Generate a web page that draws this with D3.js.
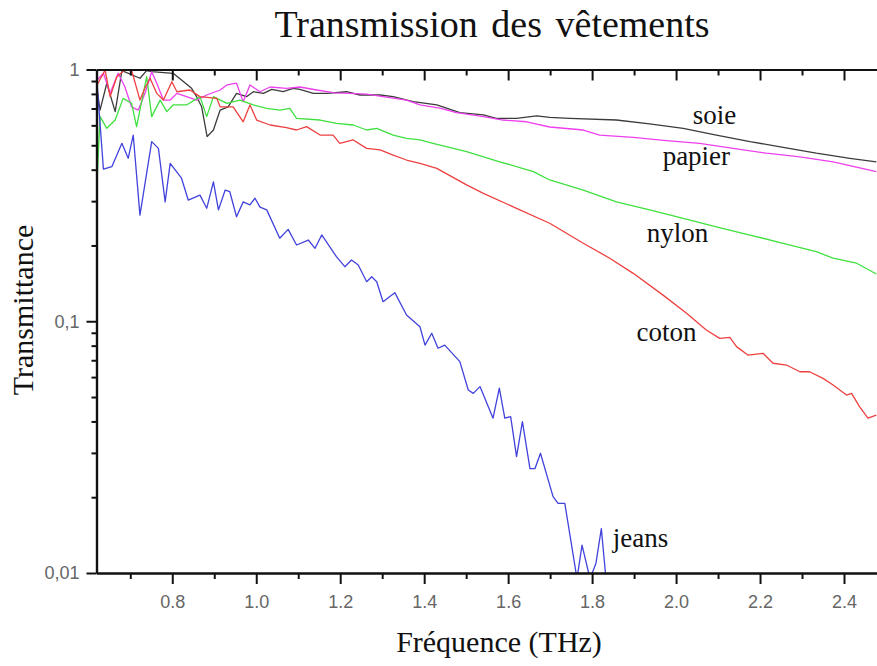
<!DOCTYPE html>
<html>
<head>
<meta charset="utf-8">
<script src="https://cdn.jsdelivr.net/npm/d3@7"></script>
<style>
  body { margin: 0; background: #fff; }
  svg { display: block; }
</style>
</head>
<body>
<script>
// transmittance (freq in THz)
var soieFreq = [0.621,0.628,0.644,0.664,0.680,0.723,0.739,0.751,0.802,0.822,0.846,0.858,0.870,0.883,0.898,0.914,0.933,0.953,0.977,0.993,1.017,1.037,1.064,1.088,1.104,1.136,1.168,1.215,1.247,1.295,1.326,1.374,1.430,1.485,1.541,1.572,1.620,1.668,1.699,1.747,1.858,1.937,2.017,2.096,2.176,2.255,2.334,2.414,2.477];
var soieT    = [0.829,0.690,0.882,0.680,0.990,0.923,0.990,0.980,0.966,0.908,0.842,0.780,0.711,0.541,0.575,0.690,0.711,0.804,0.780,0.816,0.804,0.834,0.816,0.842,0.834,0.804,0.804,0.816,0.792,0.792,0.780,0.745,0.723,0.674,0.660,0.640,0.640,0.654,0.645,0.640,0.630,0.608,0.584,0.549,0.517,0.491,0.465,0.444,0.430];

var papierFreq = [0.621,0.636,0.652,0.671,0.687,0.703,0.719,0.735,0.751,0.763,0.779,0.795,0.811,0.834,0.858,0.882,0.914,0.930,0.953,0.969,0.985,1.009,1.033,1.072,1.104,1.144,1.187,1.223,1.263,1.302,1.358,1.390,1.437,1.477,1.541,1.588,1.644,1.699,1.779,1.818,1.898,1.977,2.056,2.136,2.215,2.295,2.374,2.477];
var papierT    = [0.908,0.966,0.804,0.966,0.854,0.711,0.690,0.804,0.980,0.882,0.756,0.756,0.804,0.780,0.756,0.792,0.829,0.868,0.882,0.745,0.868,0.816,0.852,0.842,0.852,0.829,0.807,0.804,0.799,0.780,0.756,0.723,0.703,0.674,0.650,0.630,0.620,0.591,0.575,0.549,0.538,0.522,0.509,0.486,0.465,0.450,0.430,0.393];

var nylonFreq = [0.620,0.628,0.644,0.664,0.683,0.703,0.715,0.739,0.751,0.771,0.787,0.802,0.834,0.866,0.882,0.898,0.930,0.961,0.993,1.025,1.056,1.080,1.096,1.152,1.191,1.231,1.263,1.287,1.326,1.358,1.390,1.421,1.501,1.580,1.660,1.699,1.779,1.858,1.937,2.017,2.096,2.176,2.255,2.334,2.374,2.430,2.477];
var nylonT    = [0.338,0.650,0.584,0.630,0.768,0.734,0.593,0.936,0.650,0.756,0.680,0.723,0.723,0.780,0.650,0.780,0.734,0.756,0.723,0.701,0.690,0.701,0.640,0.630,0.611,0.602,0.575,0.584,0.549,0.533,0.525,0.509,0.472,0.430,0.393,0.364,0.332,0.298,0.277,0.256,0.237,0.220,0.204,0.189,0.178,0.170,0.154];

var cotonFreq = [0.621,0.640,0.652,0.668,0.687,0.703,0.723,0.735,0.747,0.763,0.779,0.799,0.811,0.842,0.866,0.906,0.914,0.945,0.969,0.985,1.001,1.033,1.072,1.096,1.120,1.152,1.183,1.199,1.231,1.263,1.295,1.326,1.358,1.390,1.430,1.501,1.541,1.620,1.699,1.779,1.842,1.898,1.969,2.025,2.072,2.104,2.128,2.144,2.171,2.207,2.231,2.263,2.295,2.318,2.350,2.374,2.406,2.418,2.437,2.457,2.477];
var cotonT    = [0.868,0.995,0.780,0.936,0.995,0.995,0.756,0.844,0.923,0.804,0.756,0.894,0.816,0.829,0.780,0.768,0.711,0.711,0.620,0.723,0.630,0.602,0.588,0.575,0.593,0.549,0.549,0.509,0.525,0.486,0.479,0.457,0.437,0.424,0.405,0.348,0.322,0.281,0.245,0.204,0.178,0.155,0.127,0.1075,0.0923,0.0855,0.0863,0.0793,0.0734,0.0746,0.0681,0.0670,0.0630,0.0630,0.0593,0.0558,0.0509,0.0517,0.0458,0.0412,0.0424];

var jeansFreq = [0.620,0.636,0.656,0.680,0.695,0.707,0.723,0.751,0.767,0.783,0.795,0.822,0.838,0.866,0.882,0.898,0.910,0.926,0.937,0.953,0.969,0.985,0.997,1.009,1.025,1.056,1.076,1.096,1.124,1.140,1.156,1.191,1.211,1.227,1.243,1.263,1.275,1.287,1.302,1.330,1.358,1.390,1.402,1.418,1.433,1.449,1.485,1.505,1.517,1.533,1.564,1.579,1.592,1.606,1.620,1.634,1.652,1.664,1.677,1.707,1.719,1.735,1.764,1.776,1.795,1.809,1.822,1.833];
var jeansT    = [0.920,0.402,0.411,0.509,0.444,0.549,0.264,0.517,0.486,0.298,0.424,0.370,0.303,0.317,0.281,0.358,0.277,0.332,0.327,0.260,0.298,0.290,0.308,0.284,0.277,0.2136,0.2318,0.2009,0.2102,0.1949,0.2202,0.1805,0.1647,0.1751,0.1673,0.1436,0.1503,0.1436,0.1196,0.1299,0.1059,0.0951,0.0804,0.0896,0.0781,0.0804,0.0691,0.0533,0.0517,0.0550,0.0412,0.0542,0.0412,0.0418,0.0290,0.0399,0.0260,0.0260,0.0299,0.0201,0.0189,0.0189,0.0095,0.0129,0.0095,0.0109,0.0150,0.0095];

var seriesNames = ["soie", "papier", "nylon", "coton", "jeans"];
// where each name sits, in data units (freq, transmittance)
var labelFreq = [2.040, 1.968, 1.930, 1.906, 1.849];
var labelT    = [0.607, 0.417, 0.206, 0.0834, 0.0127];

var xMajor = [0.8, 1.0, 1.2, 1.4, 1.6, 1.8, 2.0, 2.2, 2.4];
var xMinor = [0.7, 0.9, 1.1, 1.3, 1.5, 1.7, 1.9, 2.1, 2.3];
var yMajor = [1, 0.1, 0.01];
var yMajorLabels = ["1", "0,1", "0,01"];

var series = [
  {name: "soie",   f: soieFreq,   t: soieT,   color: "#3c3c3c"},
  {name: "papier", f: papierFreq, t: papierT, color: "#ee3fee"},
  {name: "nylon",  f: nylonFreq,  t: nylonT,  color: "#3fe03f"},
  {name: "coton",  f: cotonFreq,  t: cotonT,  color: "#ee4040"},
  {name: "jeans",  f: jeansFreq,  t: jeansT,  color: "#4242dc"}
];

var W = 877, H = 666;
var plotL = 96.5, plotR = 877, plotT = 69.5, plotB = 573;

var svg = d3.select("body").append("svg")
            .attr("width", W)
            .attr("height", H);

var x = d3.scaleLinear().domain([0.6195, 2.4786]).range([plotL, plotR]);
var y = d3.scaleLog().domain([0.01, 1]).range([plotB, plotT]);

svg.append("clipPath").attr("id", "plot")
   .append("rect")
   .attr("x", plotL).attr("y", plotT)
   .attr("width", plotR - plotL + 5).attr("height", plotB - plotT);

// curves
var line = d3.line()
             .x(function(d) { return x(d[0]); })
             .y(function(d) { return y(d[1]); });

var curves = svg.append("g").attr("clip-path", "url(#plot)");
series.forEach(function(s) {
  var pts = s.f.map(function(f, i) { return [f, s.t[i]]; });
  curves.append("path")
        .datum(pts)
        .attr("d", line)
        .attr("fill", "none")
        .attr("stroke", s.color)
        .attr("stroke-width", 1.3)
        .attr("stroke-linejoin", "round");
});

// axes
var tickFont = "'Liberation Sans', Arial, sans-serif";

var xAxisB = svg.append("g")
                .attr("transform", "translate(0," + plotB + ")")
                .call(d3.axisBottom(x).tickValues(xMajor).tickSize(11).tickSizeOuter(0)
                        .tickFormat(d3.format(".1f")));
svg.append("g")
   .attr("transform", "translate(0," + plotB + ")")
   .call(d3.axisBottom(x).tickValues(xMinor).tickSize(6).tickSizeOuter(0).tickFormat(""));

svg.append("g")
   .attr("transform", "translate(0," + plotT + ")")
   .call(d3.axisBottom(x).tickValues(xMajor).tickSize(11).tickSizeOuter(0).tickFormat(""));
svg.append("g")
   .attr("transform", "translate(0," + plotT + ")")
   .call(d3.axisBottom(x).tickValues(xMinor).tickSize(6).tickSizeOuter(0).tickFormat(""));

var yMinor = [];
[0.01, 0.1].forEach(function(dec) {
  for (var k = 2; k <= 9; k++) yMinor.push(dec * k);
});

var yAxis = svg.append("g")
               .attr("transform", "translate(" + plotL + ",0)")
               .call(d3.axisLeft(y).tickValues(yMajor).tickSize(10).tickSizeOuter(0)
                       .tickFormat(function(d, i) { return yMajorLabels[i]; }));
svg.append("g")
   .attr("transform", "translate(" + plotL + ",0)")
   .call(d3.axisLeft(y).tickValues(yMinor).tickSize(5).tickSizeOuter(0).tickFormat(""));

svg.selectAll(".domain").attr("stroke", "#111").attr("stroke-width", 2.2);
svg.selectAll(".tick line").attr("stroke", "#111").attr("stroke-width", 2);
svg.selectAll(".tick text")
   .attr("font-family", tickFont)
   .attr("font-size", "18px")
   .attr("fill", "#666");
xAxisB.selectAll(".tick text").attr("y", 22);
yAxis.selectAll(".tick text").attr("x", -17);

// titles
var serif = "'Liberation Serif', 'Times New Roman', serif";

svg.append("text")
   .attr("x", 492).attr("y", 37)
   .attr("text-anchor", "middle")
   .attr("font-family", serif)
   .attr("font-size", "38px")
   .attr("word-spacing", "4px")
   .attr("fill", "#111")
   .text("Transmission des vêtements");

svg.append("text")
   .attr("transform", "translate(33,310) rotate(-90)")
   .attr("text-anchor", "middle")
   .attr("font-family", serif)
   .attr("font-size", "30px")
   .attr("fill", "#111")
   .text("Transmittance");

svg.append("text")
   .attr("x", 499).attr("y", 652)
   .attr("text-anchor", "middle")
   .attr("font-family", serif)
   .attr("font-size", "30px")
   .attr("fill", "#111")
   .text("Fréquence (THz)");

// curve names
svg.selectAll("text.name")
   .data(seriesNames)
   .enter()
   .append("text")
   .attr("class", "name")
   .attr("x", function(d, i) { return x(labelFreq[i]); })
   .attr("y", function(d, i) { return y(labelT[i]); })
   .attr("font-family", serif)
   .attr("font-size", "27px")
   .attr("fill", "#111")
   .text(function(d) { return d; });
</script>
</body>
</html>
